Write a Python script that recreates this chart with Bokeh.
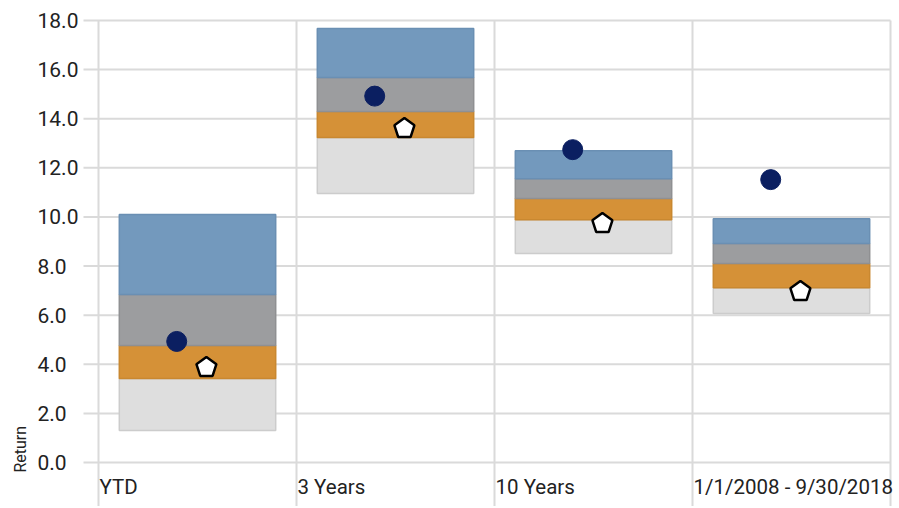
import math
from bokeh.plotting import figure
from bokeh.models import Range1d, ColumnDataSource
from bokeh.core.properties import value
from bokeh.embed import file_html
from bokeh.resources import INLINE

# ---- data ----
categories = ["YTD", "3 Years", "10 Years", "1/1/2008 - 9/30/2018"]
low = [1.30, 10.95, 8.51, 6.07]          # bottom of range
q3 = [3.42, 13.23, 9.89, 7.12]           # light/orange boundary
median = [4.76, 14.29, 10.75, 8.10]      # orange/gray boundary
q1 = [6.84, 15.68, 11.56, 8.92]          # gray/blue boundary
high = [10.10, 17.67, 12.70, 9.93]       # top of range
fund = [4.93, 14.92, 12.74, 11.52]
benchmark = [3.87, 13.60, 9.73, 6.96]
y_ticks = [0, 2, 4, 6, 8, 10, 12, 14, 16, 18]
y_tick_labels = ["0.0", "2.0", "4.0", "6.0", "8.0", "10.0", "12.0", "14.0", "16.0", "18.0"]
y_title = "Return"

FONT = "Roboto"
TXT = "#222222"
GRID = "#dadada"

n = len(categories)
idx = list(range(n))
centers = [i + 0.5 for i in idx]
fund_x = [i + 0.395 for i in idx]
bench_x = [i + 0.545 for i in idx]

W, H = 897, 506
X0, X1 = -98 / 198, (W - 98) / 198
Y1, Y0 = 462 / 24.556, -(H - 462) / 24.556

p = figure(width=W, height=H, output_backend="svg", toolbar_location=None,
           x_range=Range1d(X0, X1), y_range=Range1d(Y0, Y1),
           min_border_left=0, min_border_right=0, min_border_top=0,
           min_border_bottom=0)
p.outline_line_color = None
p.axis.visible = False
p.grid.visible = False
p.background_fill_color = "white"
p.border_fill_color = "white"

# horizontal grid lines at the y ticks
p.segment(x0=[-0.0758] * len(y_ticks), x1=[4.0] * len(y_ticks),
          y0=y_ticks, y1=y_ticks, line_color=GRID, line_width=2)
# vertical category separators
sep = [0, 1, 2, 3, 4]
p.segment(x0=sep, x1=sep, y0=[y_ticks[-1]] * len(sep), y1=[Y0] * len(sep),
          line_color=GRID, line_width=2)

# stacked range boxes
segments = [
    (low, q3, "#dedede", "#cccccc"),
    (q3, median, "#d59137", "#c98830"),
    (median, q1, "#9c9d9f", "#8f9092"),
    (q1, high, "#7399bd", "#6a8fb3"),
]
for b, t, fc, lc in segments:
    p.vbar(x=centers, width=0.79, bottom=b, top=t, fill_color=fc,
           line_color=lc, line_width=1.5)

# fund (circle) and benchmark (pentagon)
p.scatter(x=fund_x, y=fund, marker="circle", size=20,
          fill_color="#0b1f61", line_color="#0b1f61")
p.ngon(x=bench_x, y=benchmark, radius=10.5, radius_units="screen", n=5,
       fill_color="white", line_color="black", line_width=2.5)

# y tick labels (left aligned, as in the reference)
ysrc = ColumnDataSource(dict(x=[-0.308] * len(y_ticks), y=y_ticks, t=y_tick_labels))
p.text(x="x", y="y", text="t", source=ysrc,
       text_font=value(FONT), text_font_size="21px", text_color=TXT,
       text_align="left", text_baseline="middle")

# category labels
csrc = ColumnDataSource(dict(x=[float(i) for i in idx], y=[-1.0] * n, t=categories))
p.text(x="x", y="y", text="t", source=csrc, x_offset=1,
       text_font=value(FONT), text_font_size="20.5px", text_color=TXT,
       text_align="left", text_baseline="middle")

# y-axis title
p.text(x=[-0.396], y=[-0.41], text=[y_title], angle=math.pi / 2,
       text_font=value(FONT), text_font_size="16px", text_color=TXT,
       text_align="left", text_baseline="middle")

open("out.html", "w").write(file_html(p, INLINE))
